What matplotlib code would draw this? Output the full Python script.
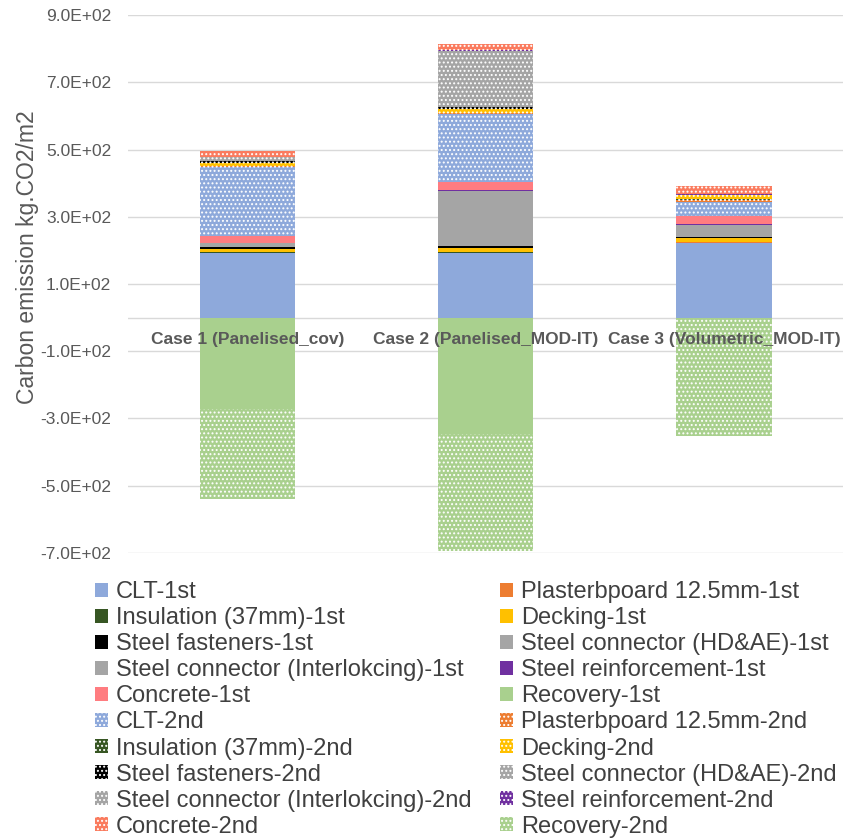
import numpy as np
import matplotlib
matplotlib.use('Agg')
import matplotlib.pyplot as plt

plt.rcParams['font.family'] = ['Liberation Sans', 'DejaVu Sans']
plt.rcParams['hatch.linewidth'] = 0.9

cases = ['Case 1 (Panelised_cov)', 'Case 2 (Panelised_MOD-IT)', 'Case 3 (Volumetric_MOD-IT)']

# values in kg.CO2/m2
clt_1st = [192, 192, 223]
plaster_1st = [1, 1, 1]
insul_1st = [1, 1, 1]
decking_1st = [10, 12, 11]
fasten_1st = [7, 8, 5]
hd_1st = [10, 10, 35]
interlock_1st = [0, 153, 0]
reinf_1st = [1, 2, 1]
concrete_1st = [22, 24, 25]
recovery_1st = [-272, -347, 0]
clt_2nd = [205, 204, 43]
plaster_2nd = [1, 1, 6]
insul_2nd = [1, 1, 1]
decking_2nd = [10, 10, 14]
fasten_2nd = [6, 7, 0]
hd_2nd = [10, 10, 0]
interlock_2nd = [0, 158, 0]
reinf_2nd = [1, 2, 1]
concrete_2nd = [19, 18, 24]
recovery_2nd = [-268, -346, -351]

dots = '....'
series = [
    ('CLT-1st', clt_1st, '#8EA9DB', None),
    ('Plasterbpoard 12.5mm-1st', plaster_1st, '#ED7D31', None),
    ('Insulation (37mm)-1st', insul_1st, '#375623', None),
    ('Decking-1st', decking_1st, '#FFC000', None),
    ('Steel fasteners-1st', fasten_1st, '#000000', None),
    ('Steel connector (HD&AE)-1st', hd_1st, '#A5A5A5', None),
    ('Steel connector (Interlokcing)-1st', interlock_1st, '#A5A5A5', None),
    ('Steel reinforcement-1st', reinf_1st, '#7030A0', None),
    ('Concrete-1st', concrete_1st, '#FF7C80', None),
    ('Recovery-1st', recovery_1st, '#A9D08E', None),
    ('CLT-2nd', clt_2nd, '#8EA9DB', dots),
    ('Plasterbpoard 12.5mm-2nd', plaster_2nd, '#ED7D31', dots),
    ('Insulation (37mm)-2nd', insul_2nd, '#375623', dots),
    ('Decking-2nd', decking_2nd, '#FFC000', dots),
    ('Steel fasteners-2nd', fasten_2nd, '#000000', dots),
    ('Steel connector (HD&AE)-2nd', hd_2nd, '#A5A5A5', dots),
    ('Steel connector (Interlokcing)-2nd', interlock_2nd, '#A5A5A5', dots),
    ('Steel reinforcement-2nd', reinf_2nd, '#7030A0', dots),
    ('Concrete-2nd', concrete_2nd, '#FA7B5E', dots),
    ('Recovery-2nd', recovery_2nd, '#A9D08E', dots),
]

fig = plt.figure(figsize=(8.44, 8.39), dpi=100)
ax = fig.add_axes([0.1517, 0.3409, 0.8473, 0.6412])

x = np.arange(len(cases))
pos_base = np.zeros(len(cases))
neg_base = np.zeros(len(cases))
handles = []
for name, vals, color, hatch in series:
    v = np.array(vals, dtype=float)
    base = np.where(v >= 0, pos_base, neg_base)
    b = ax.bar(x, v, 0.4, bottom=base, color=color, hatch=hatch,
               edgecolor='white', linewidth=0, label=name, zorder=2)
    handles.append(b)
    pos_base += np.where(v >= 0, v, 0)
    neg_base += np.where(v < 0, v, 0)

ax.set_xlim(-0.5, 2.5)
ax.set_ylim(-700, 900)
ax.set_yticks(np.arange(-700, 901, 200))
ax.set_yticklabels(['%.1fE+02' % (t / 100) for t in np.arange(-700, 901, 200)])
ax.yaxis.grid(True, color='#D9D9D9', linewidth=1, zorder=0)
ax.axhline(0, color='#D9D9D9', linewidth=1, zorder=1)
ax.set_axisbelow(True)
for s in ax.spines.values():
    s.set_visible(False)
ax.tick_params(axis='y', length=0, labelsize=12.5, labelcolor='#595959', pad=12)
ax.set_xticks([])
ax.set_ylabel('Carbon emission kg.CO2/m2', fontsize=16.5, color='#595959')
ax.yaxis.set_label_coords(-0.125, 0.55)

for i, c in enumerate(cases):
    ax.text(i, -66, c, ha='center', va='center', fontsize=12.5, fontweight='bold',
            color='#595959', zorder=5)

# Excel fills the legend row by row
order = list(range(0, 20, 2)) + list(range(1, 20, 2))
leg = fig.legend([handles[i] for i in order], [series[i][0] for i in order],
                 ncol=2, loc='upper left', bbox_to_anchor=(0.112, 0.307),
                 frameon=False, fontsize=17, handlelength=0.55, handleheight=0.55,
                 handletextpad=0.35, labelspacing=0.17, columnspacing=1.2,
                 borderaxespad=0, borderpad=0)
for t in leg.get_texts():
    t.set_color('#404040')

fig.savefig('out.png', dpi=100)
